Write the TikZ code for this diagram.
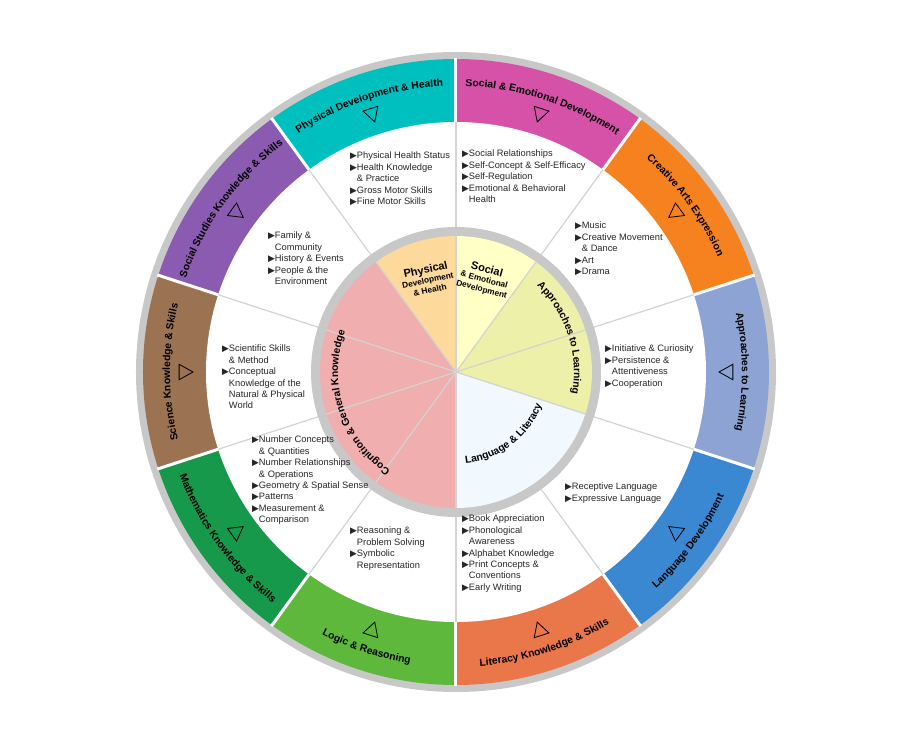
\documentclass[tikz,border=0pt]{standalone}
\usepackage{fontspec}
\setmainfont{Liberation Sans}
\newfontfamily\symf{DejaVu Sans}
\usetikzlibrary{decorations.text}
\definecolor{cPhys}{HTML}{00BFBF}
\definecolor{cSoc}{HTML}{D651A8}
\definecolor{cArt}{HTML}{F5821F}
\definecolor{cAppr}{HTML}{8DA3D3}
\definecolor{cLang}{HTML}{3A88D2}
\definecolor{cLit}{HTML}{E9774A}
\definecolor{cLogic}{HTML}{5DB83C}
\definecolor{cMath}{HTML}{16994A}
\definecolor{cSci}{HTML}{9B7352}
\definecolor{cSst}{HTML}{8A5BB0}
\definecolor{iPhys}{HTML}{FDD99B}
\definecolor{iSoc}{HTML}{FFFFC6}
\definecolor{iAppr}{HTML}{ECF0A8}
\definecolor{iLang}{HTML}{F1F8FE}
\definecolor{iCog}{HTML}{F0AEAE}
\definecolor{rim}{HTML}{C8C8C8}
\newcommand\itm{{\symf\scalebox{0.95}{▶}}}
\newcommand\ind{\phantom{\itm}}
\tikzset{
  items/.style={anchor=north west,align=left,inner sep=0pt,text=black!85,font=\fontsize{9.3}{11.4}\selectfont},
  sepline/.style={draw=rim!80,line width=1.2pt},
  gapline/.style={draw=white,line width=3pt},
  arclabel/.style={decorate,decoration={text along path,text align=center,
    text format delimiters={|}{|},text={|\bfseries\fontsize{10.3}{12}\selectfont|#1}}},
}
\begin{document}
\begin{tikzpicture}[x=1pt,y=1pt]
\useasboundingbox[fill=white] (-456,-373) rectangle (444,372);
% rim and outer ring
\fill[rim] (0,0) circle (320);
\foreach \a/\col in {108/cPhys,72/cSoc,36/cArt,0/cAppr,-36/cLang,-72/cLit,-108/cLogic,-144/cMath,180/cSci,144/cSst}
  \fill[\col] (0,0) -- (\a+18:313) arc[start angle=\a+18,end angle=\a-18,radius=313] -- cycle;
\fill[white] (0,0) circle (250);
\foreach \a in {90,54,18,-18,-54,-90,-126,-162,-198,-234}
  \draw[gapline] (\a:250) -- (\a:314);
\foreach \a in {90,54,18,-18,-54,-90,-126,-162,-198,-234}
  \draw[sepline] (\a:145) -- (\a:250);
% triangles
\foreach \a in {108,72,36,0,-36,-72,-108,-144,180,144}
  \draw[line width=0.8pt] (\a:263) -- (\a+1.6:277) -- (\a-1.6:277) -- cycle;
% outer labels
\path[arclabel={Physical Development {\&} Health}] (126:286) arc[start angle=126,end angle=90,radius=286];
\path[arclabel={Social {\&} Emotional Development}] (90:286) arc[start angle=90,end angle=54,radius=286];
\path[arclabel={Creative Arts Expression}] (54:286) arc[start angle=54,end angle=18,radius=286];
\path[arclabel={Approaches to Learning}] (18:286) arc[start angle=18,end angle=-18,radius=286];
\path[arclabel={Science Knowledge {\&} Skills}] (198:286) arc[start angle=198,end angle=162,radius=286];
\path[arclabel={Social Studies Knowledge {\&} Skills}] (162:286) arc[start angle=162,end angle=126,radius=286];
\path[arclabel={Language Development}] (-54:295) arc[start angle=-54,end angle=-18,radius=295];
\path[arclabel={Literacy Knowledge {\&} Skills}] (-90:295) arc[start angle=-90,end angle=-54,radius=295];
\path[arclabel={Logic {\&} Reasoning}] (-126:295) arc[start angle=-126,end angle=-90,radius=295];
\path[arclabel={Mathematics Knowledge {\&} Skills}] (-162:295) arc[start angle=-162,end angle=-126,radius=295];
% inner pie
\fill[rim] (0,0) circle (145);
\fill[iPhys] (0,0) -- (126:136) arc[start angle=126,end angle=90,radius=136] -- cycle;
\fill[iSoc] (0,0) -- (90:136) arc[start angle=90,end angle=54,radius=136] -- cycle;
\fill[iAppr] (0,0) -- (54:136) arc[start angle=54,end angle=-18,radius=136] -- cycle;
\fill[iLang] (0,0) -- (-18:136) arc[start angle=-18,end angle=-90,radius=136] -- cycle;
\fill[iCog] (0,0) -- (-90:136) arc[start angle=-90,end angle=-234,radius=136] -- cycle;
\foreach \a in {90,54,18,-18,-90,126,162,198,234}
  \draw[sepline] (0,0) -- (\a:136);
\node[rotate=12,align=center,font=\bfseries\fontsize{8.3}{10}\selectfont] (phys) at (107:97)
  {{\fontsize{11}{12}\selectfont Physical}\\Development\\\& Health};
\node[rotate=-15,align=center,font=\bfseries\fontsize{8.3}{10}\selectfont] (soc) at (73:97)
  {{\fontsize{11}{12}\selectfont Social}\\\& Emotional\\Development};
\path[arclabel={Approaches to Learning}] (52:118) arc[start angle=52,end angle=-16,radius=118];
\path[arclabel={Cognition {\&} General Knowledge}] (236:118) arc[start angle=236,end angle=160,radius=118];
\path[arclabel={Language {\&} Literacy}] (-85:92) arc[start angle=-85,end angle=-20,radius=92];
% item lists
\node[items] (lPhys) at (-106,220) {\itm Physical Health Status\\\itm Health Knowledge\\\ind\& Practice\\\itm Gross Motor Skills\\\itm Fine Motor Skills};
\node[items] (lSoc) at (6,222) {\itm Social Relationships\\\itm Self-Concept \& Self-Efficacy\\\itm Self-Regulation\\\itm Emotional \& Behavioral\\\ind Health};
\node[items] (lArt) at (119,150) {\itm Music\\\itm Creative Movement\\\ind\& Dance\\\itm Art\\\itm Drama};
\node[items] (lAppr) at (149,27) {\itm Initiative \& Curiosity\\\itm Persistence \&\\\ind Attentiveness\\\itm Cooperation};
\node[items] (lLang) at (109,-111) {\itm Receptive Language\\\itm Expressive Language};
\node[items] (lLit) at (6,-143) {\itm Book Appreciation\\\itm Phonological\\\ind Awareness\\\itm Alphabet Knowledge\\\itm Print Concepts \&\\\ind Conventions\\\itm Early Writing};
\node[items] (lLogic) at (-106,-155) {\itm Reasoning \&\\\ind Problem Solving\\\itm Symbolic\\\ind Representation};
\node[items] (lMath) at (-204,-64) {\itm Number Concepts\\\ind\& Quantities\\\itm Number Relationships\\\ind\& Operations\\\itm Geometry \& Spatial Sense\\\itm Patterns\\\itm Measurement \&\\\ind Comparison};
\node[items] (lSci) at (-234,27) {\itm Scientific Skills\\\ind\& Method\\\itm Conceptual\\\ind Knowledge of the\\\ind Natural \& Physical\\\ind World};
\node[items] (lSst) at (-188,140) {\itm Family \&\\\ind Community\\\itm History \& Events\\\itm People \& the\\\ind Environment};
\end{tikzpicture}
\end{document}
